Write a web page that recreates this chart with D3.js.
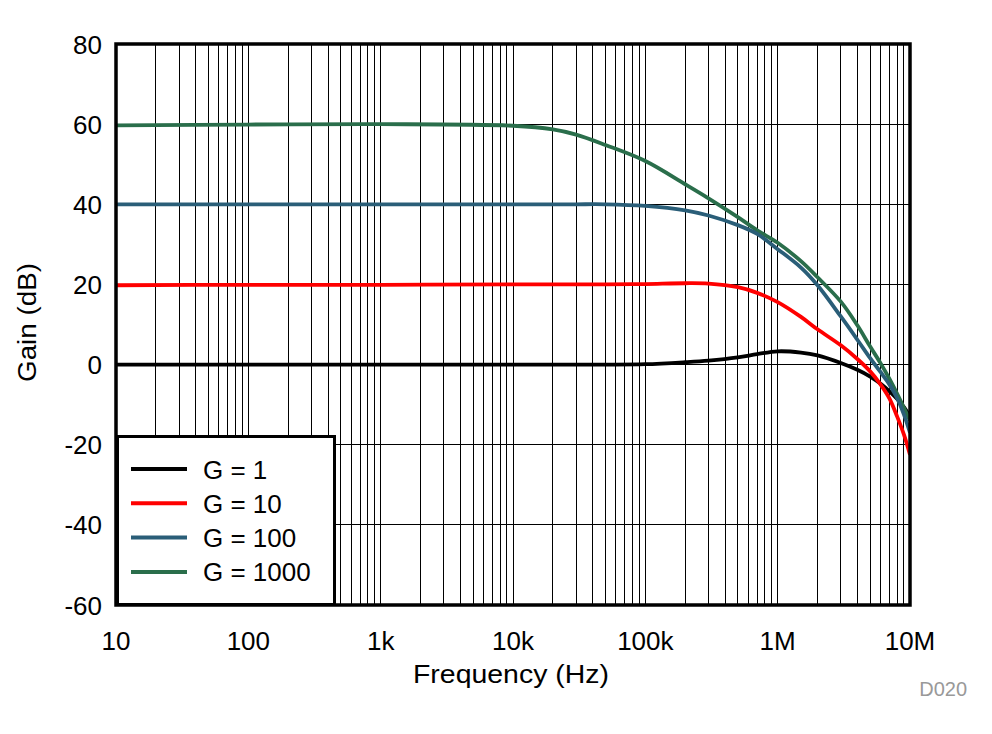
<!DOCTYPE html>
<html><head><meta charset="utf-8">
<script src="https://cdn.jsdelivr.net/npm/d3@7"></script>
<style>body{margin:0;background:#fff}svg{display:block}text{font-family:"Liberation Sans",Arial,sans-serif}</style>
</head><body><svg id="c" width="992" height="734"></svg>
<script>
const freqs = [10, 100, 1000, 10000, 20000, 30000, 50000, 100000, 200000, 300000, 500000, 700000, 1000000, 1500000, 2000000, 3000000, 4000000, 5000000, 6000000, 7000000, 8000000, 9000000, 10000000];
const gainG1    = [0, 0, 0, 0, 0, 0, 0, 0.1, 0.6, 1.0, 1.8, 2.6, 3.3, 3.0, 2.3, 0.4, -1.3, -3.0, -4.8, -6.7, -8.6, -10.6, -13];
const gainG10   = [19.8, 19.9, 19.9, 20, 20, 20, 20, 20.1, 20.3, 20.2, 19.3, 17.9, 15.6, 11.9, 8.8, 4.8, 1.4, -1.7, -5.0, -8.5, -13, -17.5, -22.5];
const gainG100  = [40, 40, 40, 40, 40, 40, 40, 39.6, 38.5, 37.2, 34.8, 32.6, 28.8, 24.2, 19.8, 12.0, 6.2, 1.6, -1.9, -5.0, -8.4, -12.5, -17];
const gainG1000 = [59.7, 59.9, 60, 59.6, 58.7, 57.4, 54.8, 50.8, 45.0, 41.5, 36.8, 33.5, 30.4, 25.8, 21.8, 15.7, 9.8, 4.5, 0.3, -3.6, -7.3, -10.8, -14];
const seriesNames  = ["G = 1", "G = 10", "G = 100", "G = 1000"];
const seriesColors = ["#000000", "#ff0000", "#2a5e78", "#2a6e4b"];
const xTickValues = [10, 100, 1000, 10000, 100000, 1000000, 10000000];
const xTickLabels = ["10", "100", "1k", "10k", "100k", "1M", "10M"];
const yTickValues = [-60, -40, -20, 0, 20, 40, 60, 80];

const svg = d3.select("#c");
const L = 116, R = 910, T = 44, B = 605;
const x = d3.scaleLog().domain([10, 1e7]).range([L, R]);
const y = d3.scaleLinear().domain([-60, 80]).range([B, T]);

// minor vertical grid
const minor = [];
for (let d = 10; d < 1e7; d *= 10) for (let k = 1; k <= 9; k++) minor.push(d * k);
minor.push(1e7);
svg.append("g").selectAll("line").data(minor).join("line")
  .attr("x1", d => x(d)).attr("x2", d => x(d)).attr("y1", T).attr("y2", B)
  .attr("stroke", "#000").attr("stroke-width", 1).attr("shape-rendering", "crispEdges");
svg.append("g").selectAll("line").data(yTickValues).join("line")
  .attr("x1", L).attr("x2", R).attr("y1", d => y(d)).attr("y2", d => y(d))
  .attr("stroke", "#000").attr("stroke-width", 1).attr("shape-rendering", "crispEdges");

svg.append("defs").append("clipPath").attr("id", "clip").append("rect")
  .attr("x", L).attr("y", T).attr("width", R - L).attr("height", B - T);

const allGains = [gainG1, gainG10, gainG100, gainG1000];
const line = d3.line().x(d => x(d[0])).y(d => y(d[1])).curve(d3.curveCatmullRom.alpha(0.5));
const order = [0, 3, 2, 1];
const gLines = svg.append("g").attr("clip-path", "url(#clip)");
order.forEach(i => {
  gLines.append("path").datum(freqs.map((f, j) => [f, allGains[i][j]]))
    .attr("d", line).attr("fill", "none").attr("stroke", seriesColors[i])
    .attr("stroke-width", 3.8).attr("stroke-linejoin", "round");
});

// legend
const lg = svg.append("g");
lg.append("rect").attr("x", 117.5).attr("y", 436.5).attr("width", 217).attr("height", 168)
  .attr("fill", "#fff").attr("stroke", "#000").attr("stroke-width", 3);
seriesNames.forEach((n, i) => {
  const yy = 469 + i * 34.3;
  lg.append("line").attr("x1", 131).attr("x2", 187).attr("y1", yy).attr("y2", yy)
    .attr("stroke", seriesColors[i]).attr("stroke-width", 4);
  lg.append("text").attr("x", 203).attr("y", yy + 9.5).attr("font-size", 26).text(n);
});

// frame
svg.append("rect").attr("x", L).attr("y", T).attr("width", R - L).attr("height", B - T)
  .attr("fill", "none").attr("stroke", "#000").attr("stroke-width", 3.5);

// tick labels
svg.append("g").selectAll("text").data(yTickValues).join("text")
  .attr("x", 102).attr("y", d => y(d) + 9.5).attr("text-anchor", "end").attr("font-size", 26)
  .text(d => d);
svg.append("g").selectAll("text").data(xTickValues).join("text")
  .attr("x", d => x(d)).attr("y", 650).attr("text-anchor", "middle").attr("font-size", 26)
  .text((d, i) => xTickLabels[i]);

svg.append("text").attr("x", 413).attr("y", 683).attr("font-size", 26.5)
  .attr("textLength", 196).attr("lengthAdjust", "spacingAndGlyphs").text("Frequency (Hz)");
svg.append("text").attr("transform", "translate(36,382) rotate(-90)")
  .attr("font-size", 26.5).attr("textLength", 119).attr("lengthAdjust", "spacingAndGlyphs").text("Gain (dB)");
svg.append("text").attr("x", 967).attr("y", 696).attr("text-anchor", "end").attr("font-size", 20)
  .attr("fill", "#999").text("D020");
</script></body></html>
